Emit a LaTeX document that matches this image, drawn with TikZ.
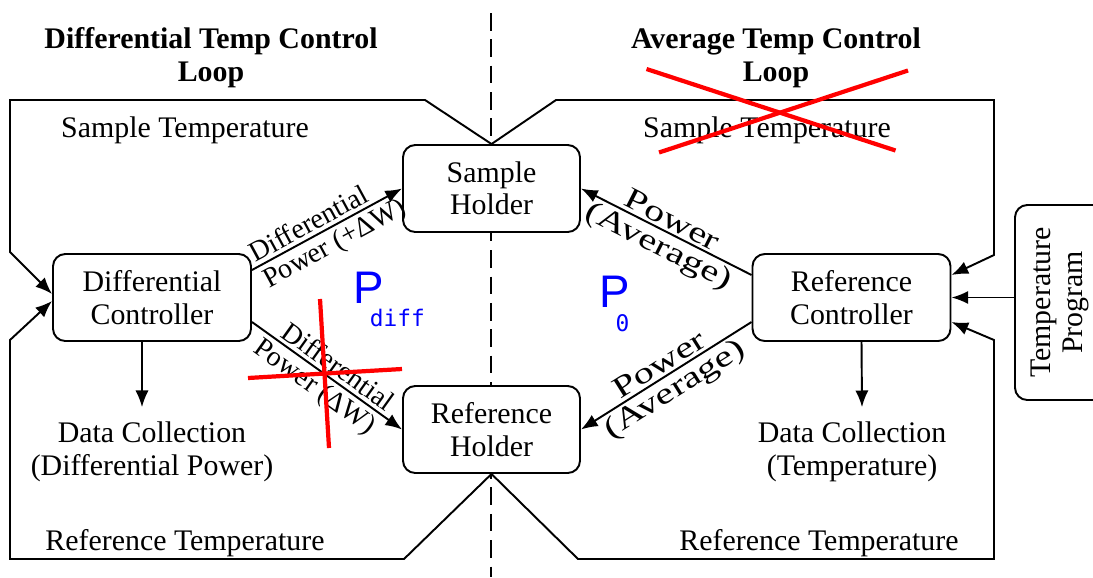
\documentclass[tikz,border=0pt]{standalone}
\usepackage{fontspec}
\setmainfont{Liberation Serif}
\newfontfamily\widefont[FakeStretch=1.35]{Liberation Serif}
\newfontfamily\psans{Liberation Sans}
\newfontfamily\pmono{DejaVu Sans Mono}
\usepackage{tikz}
\usetikzlibrary{positioning}
\usetikzlibrary{arrows.meta}

\begin{document}
\begin{tikzpicture}[
    font=\fontsize{17}{18.5}\selectfont,
    line width=1.1pt,
    holder/.style={rectangle,draw,fill=white,rounded corners=7pt,align=center,minimum width=3.54cm,minimum height=1.74cm},
    ctrl/.style={holder,minimum width=3.96cm},
    title/.style={font=\fontsize{17}{18.7}\selectfont\bfseries,align=center},
    datatext/.style={align=center,inner sep=8pt},
    powerlabel/.style={sloped,inner sep=2pt,font=\fontsize{16}{18}\selectfont},
    avglabel/.style={sloped,inner sep=1.5pt,font=\fontsize{17}{18.5}\widefont},
    arrow/.style={->,>={Latex[length=9.5pt,width=7.5pt]}},
    cross/.style={red,line width=2.4pt},
    plabel/.style={blue,inner sep=0pt,anchor=base west}
]
\clip (0,0) rectangle (21.86,-11.54);

% dividing line between the two loops
\draw[dash pattern=on 10pt off 5pt] (9.82,-0.26) -- (9.82,-11.54);

% titles
\node[title] (ttlL) at (4.22,-1.16) {Differential Temp Control\\Loop};
\node[title] (ttlR) at (15.52,-1.16) {Average Temp Control\\Loop};

% boxes
\node[holder] (sh) at (9.83,-3.77) {Sample\\Holder};
\node[holder] (rh) at (9.83,-8.59) {Reference\\Holder};
\node[ctrl] (dc) at (3.04,-5.95) {Differential\\Controller};
\node[ctrl] (rc) at (17.03,-5.95) {Reference\\Controller};
\node[holder,rotate=90,minimum width=3.9cm,minimum height=1.8cm] (tp) at (21.2,-6.05) {Temperature\\Program};

% free texts
\node (stL) at (3.7,-2.6) {Sample Temperature};
\node (stR) at (15.34,-2.6) {Sample Temperature};
\node (rtL) at (3.7,-10.86) {Reference Temperature};
\node (rtR) at (16.38,-10.86) {Reference Temperature};
\node[datatext] (dL) at (3.04,-9.04) {Data Collection\\(Differential Power)};
\node[datatext] (dR) at (17.04,-9.04) {Data Collection\\(Temperature)};

\node[plabel] (pdiff) at (7.05,-6.06) {\psans\fontsize{26}{26}\selectfont P\kern-8pt\raisebox{-13.6pt}{\pmono\fontsize{13}{13}\selectfont diff}};
\node[plabel] (pzero) at (11.97,-6.14) {\psans\fontsize{26}{26}\selectfont P\kern-8.2pt\raisebox{-14.2pt}{\pmono\fontsize{13}{13}\selectfont 0}};

% temperature loops
\draw[arrow] (sh.north) -- (8.5,-2.0) -- (0.2,-2.0) -- (0.2,-5.04) -- ([yshift=0.07cm]dc.west);
\draw[arrow] (sh.north) -- (11.12,-2.0) -- (19.88,-2.0) -- (19.88,-5.1) -- ([yshift=0.45cm]rc.east);
\draw[arrow] (rh.south) -- (8.08,-11.18) -- (0.2,-11.18) -- (0.2,-6.8) -- ([yshift=-0.07cm]dc.west);
\draw[arrow] (rh.south) -- (11.56,-11.18) -- (19.88,-11.18) -- (19.88,-6.8) -- ([yshift=-0.49cm]rc.east);
\draw[arrow] (tp.north |- rc.east) -- (rc.east);

% power lines
\draw[arrow] ([yshift=0.55cm]dc.east) -- node[powerlabel,above,pos=0.42]{Differential} node[powerlabel,below,pos=0.5]{Power (+ΔW)} (sh.west);
\draw[arrow] ([yshift=-0.49cm]dc.east) -- node[powerlabel,above,pos=0.52]{Differential} node[powerlabel,below,pos=0.48]{Power (ΔW)} (rh.west);
\draw[arrow] ([yshift=0.45cm]rc.west) -- node[avglabel,above]{Power} node[avglabel,below]{(Average)} (sh.east);
\draw[arrow] ([yshift=-0.49cm]rc.west) -- node[avglabel,above]{Power} node[avglabel,below]{(Average)} (rh.east);

% data collection
\draw[arrow] ([xshift=-0.2cm]dc.south) -- ([xshift=-0.2cm]dL.north);
\draw[arrow] ([xshift=0.2cm]rc.south) -- ([xshift=0.2cm]dR.north);

% red crosses
\draw[cross] (12.93,-1.38) -- (17.91,-3.01);
\draw[cross] (18.16,-1.41) -- (13.18,-3.05);
\draw[cross] (6.4,-5.98) -- (6.58,-8.96);
\draw[cross] (4.96,-7.56) -- (8.04,-7.38);

\end{tikzpicture}
\end{document}
